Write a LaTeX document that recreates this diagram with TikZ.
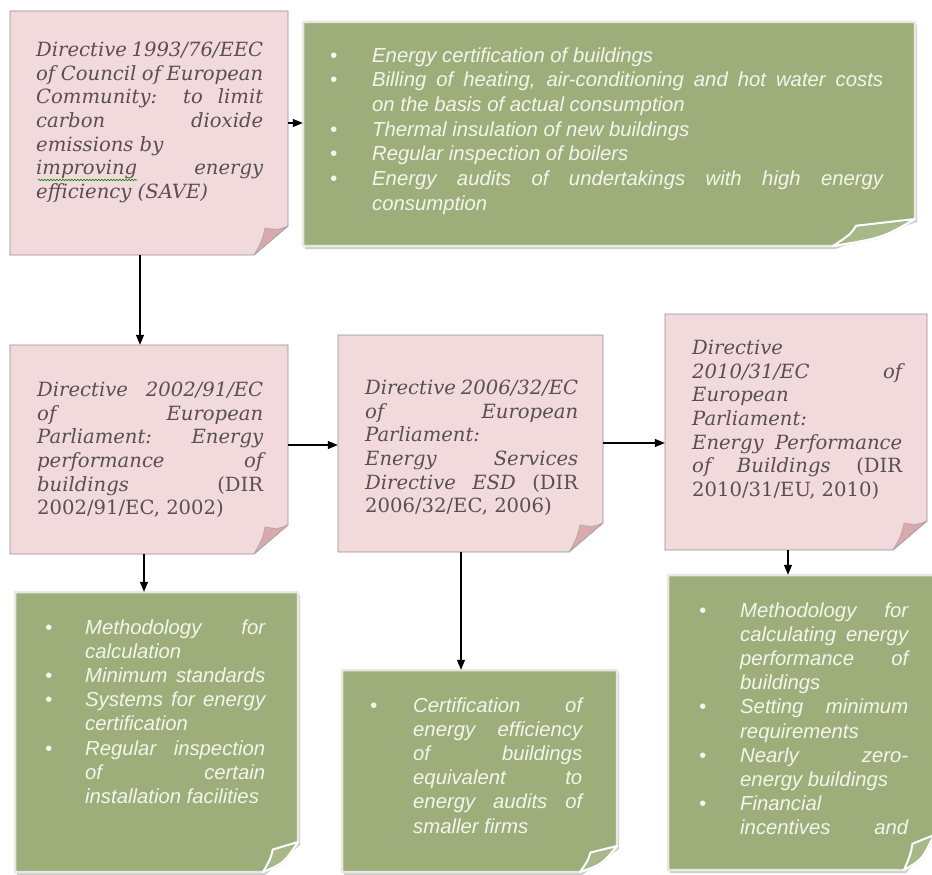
\documentclass[tikz,border=0pt]{standalone}
\usepackage{fontspec}
\setmainfont{DejaVu Serif}
\newfontfamily\gfont{Liberation Sans}
\usetikzlibrary{arrows.meta,fit,decorations.pathmorphing}

\definecolor{pinkfill}{RGB}{242,218,220}
\definecolor{pinkline}{RGB}{150,140,142}
\definecolor{pinkflap}{RGB}{216,170,174}
\definecolor{ptextc}{RGB}{88,78,84}
\definecolor{gfill}{RGB}{157,174,122}
\definecolor{gflap}{RGB}{168,184,136}
\definecolor{gborder}{RGB}{230,233,224}
\definecolor{gtextc}{RGB}{244,245,236}

\newlength\tw
\newlength\bw
\newcommand\JL[1]{\makebox[\tw][s]{\strut#1}}
\newcommand\LL[1]{\makebox[\tw][l]{\strut#1}}
\newcommand\GBJ[1]{\makebox[\bw][l]{\strut\textbullet}\makebox[\tw][s]{#1}}
\newcommand\GBL[1]{\makebox[\bw][l]{\strut\textbullet}\makebox[\tw][l]{#1}}
\newcommand\GJ[1]{\makebox[\bw][l]{\strut}\makebox[\tw][s]{#1}}
\newcommand\GL[1]{\makebox[\bw][l]{\strut}\makebox[\tw][l]{#1}}

\newcommand\pbox[5]{%
  \filldraw[pinkshape] (#2,#3) -- (#4,#3) -- (#4,#5-29) -- (#4-34,#5) -- (#2,#5) -- cycle;
  \filldraw[pinkflapst] (#4,#5-29) .. controls (#4-10,#5-25) .. (#4-23,#5-27)
     .. controls (#4-26,#5-14) .. (#4-34,#5) -- cycle;
  \node[fit={(#2,#3)(#4,#5)}, inner sep=0pt] (#1) {};
}
\newcommand\gbox[7]{%
  \fill[gshadow] (#2+2,#3+3) -- (#4+2,#3+3) -- (#4+2,#5-#7+3) -- (#4-#6+2,#5+3) -- (#2+2,#5+3) -- cycle;
  \filldraw[gshape] (#2,#3) -- (#4,#3) -- (#4,#5-#7)
     .. controls (#4-0.4*#6,#5-0.3*#7) .. (#4-#6,#5) -- (#2,#5) -- cycle;
  \filldraw[gflapst] (#4-#6,#5) .. controls (#4-0.78*#6,#5-0.45*#7) .. (#4-0.72*#6,#5-0.75*#7)
     -- (#4,#5-#7) .. controls (#4-0.4*#6,#5-0.3*#7) .. (#4-#6,#5) -- cycle;
  \node[fit={(#2,#3)(#4,#5)}, inner sep=0pt] (#1) {};
}

\tikzset{
  pinkshape/.style={fill=pinkfill, draw=pinkline, line width=0.8pt, line join=round},
  pinkflapst/.style={fill=pinkflap, draw=pinkline!80, line width=0.6pt, line join=round},
  gshadow/.style={fill=black!20},
  gshape/.style={fill=gfill, draw=gborder, line width=2.5pt, line join=round},
  gflapst/.style={fill=gflap, draw=white, line width=2pt, line join=round},
  ptext/.style={anchor=north west, inner sep=0pt, align=left, text=ptextc,
     font=\fontsize{19.6}{23.6}\selectfont\itshape},
  gtext/.style={anchor=north west, inner sep=0pt, align=left, text=gtextc,
     font=\gfont\fontsize{20.3}{24.2}\selectfont\itshape},
  arr/.style={-{Triangle[length=10pt,width=8pt]}, line width=1.1pt, draw=black},
  squig/.style={draw=green!55!black, line width=0.6pt, decorate,
     decoration={snake, amplitude=0.8pt, segment length=3pt}}
}

\begin{document}
\begin{tikzpicture}[x=1pt,y=-1pt]
\useasboundingbox (0,0) rectangle (932,875);
\clip (0,0) rectangle (932,875);
\fill[white] (0,0) rectangle (932,875);

% pink directive boxes
\pbox{p1}{10}{11}{288}{255}
\pbox{p2}{10}{345}{288}{554}
\pbox{p3}{338}{335}{603}{552}
\pbox{p4}{665}{314}{927}{550}

% green content boxes
\gbox{g1}{303}{22}{915}{246}{82}{27}
\gbox{g2}{15}{592}{298}{872}{35}{30}
\gbox{g3}{342}{670}{617}{872}{37}{26}
\gbox{g4}{668}{575}{934}{870}{30}{35}

% pink texts
\setlength\tw{227pt}
\node[ptext] (p1t) at (36,40) {\JL{Directive 1993/76/EEC}\\%
\JL{of Council of European}\\%
\JL{Community: to limit}\\%
\JL{carbon dioxide}\\%
\LL{emissions by}\\%
\JL{improving energy}\\%
\LL{efficiency (SAVE)}};
\draw[squig] (38,180) -- (137,180);

\setlength\tw{226pt}
\node[ptext] (p2t) at (37,380) {\JL{Directive 2002/91/EC}\\%
\JL{of European}\\%
\JL{Parliament: Energy}\\%
\JL{performance of}\\%
\JL{buildings \textup{(DIR}}\\%
\LL{\textup{2002/91/EC, 2002)}}};

\setlength\tw{213pt}
\node[ptext] (p3t) at (365,378) {\JL{Directive 2006/32/EC}\\%
\JL{of European}\\%
\LL{Parliament:}\\%
\JL{Energy Services}\\%
\JL{Directive ESD \textup{(DIR}}\\%
\LL{\textup{2006/32/EC, 2006)}}};

\setlength\tw{210pt}
\node[ptext] (p4t) at (692,338) {\LL{Directive}\\%
\JL{2010/31/EC of}\\%
\LL{European}\\%
\LL{Parliament:}\\%
\JL{Energy Performance}\\%
\JL{of Buildings \textup{(DIR}}\\%
\LL{\textup{2010/31/EU, 2010)}}};

% green texts
\setlength\tw{511pt}\setlength\bw{42pt}
\node[gtext, font=\gfont\fontsize{20.3}{24.7}\selectfont\itshape] (g1t) at (330,44.7) {\GBL{Energy certification of buildings}\\%
\GBJ{Billing of heating, air-conditioning and hot water costs}\\%
\GL{on the basis of actual consumption}\\%
\GBL{Thermal insulation of new buildings}\\%
\GBL{Regular inspection of boilers}\\%
\GBJ{Energy audits of undertakings with high energy}\\%
\GL{consumption}};

\setlength\tw{180pt}\setlength\bw{40pt}
\node[gtext] (g2t) at (45,617) {\GBJ{Methodology for}\\%
\GL{calculation}\\%
\GBJ{Minimum standards}\\%
\GBJ{Systems for energy}\\%
\GL{certification}\\%
\GBJ{Regular inspection}\\%
\GJ{of certain}\\%
\GL{installation facilities}};

\setlength\tw{169pt}\setlength\bw{43pt}
\node[gtext] (g3t) at (370,695) {\GBJ{Certification of}\\%
\GJ{energy efficiency}\\%
\GJ{of buildings}\\%
\GJ{equivalent to}\\%
\GJ{energy audits of}\\%
\GL{smaller firms}};

\setlength\tw{168pt}\setlength\bw{41pt}
\node[gtext] (g4t) at (699,600) {\GBJ{Methodology for}\\%
\GJ{calculating energy}\\%
\GJ{performance of}\\%
\GL{buildings}\\%
\GBJ{Setting minimum}\\%
\GL{requirements}\\%
\GBJ{Nearly zero-}\\%
\GL{energy buildings}\\%
\GBL{Financial}\\%
\GJ{incentives and}};

% connectors
\draw[arr] (p1.east |- 0,123) -- (g1.west |- 0,123);
\draw[arr] (p1.south -| 140,0) -- (p2.north -| 140,0);
\draw[arr] (p2.east |- 0,445) -- (p3.west |- 0,445);
\draw[arr] (p3.east |- 0,443) -- (p4.west |- 0,443);
\draw[arr] (p2.south -| 144,0) -- (g2.north -| 144,0);
\draw[arr] (p3.south -| 461,0) -- (g3.north -| 461,0);
\draw[arr] (p4.south -| 788,0) -- (g4.north -| 788,0);
\end{tikzpicture}
\end{document}
